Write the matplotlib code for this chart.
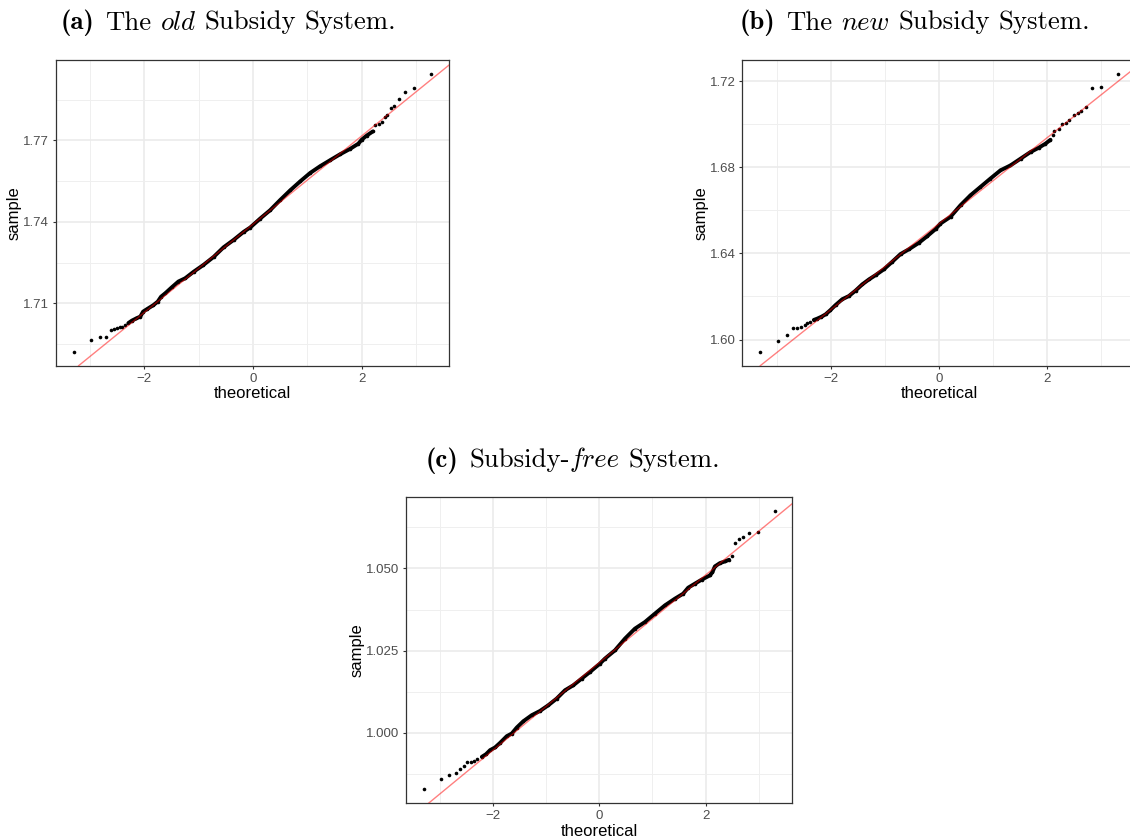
import numpy as np
import matplotlib
matplotlib.use("Agg")
import matplotlib.pyplot as plt
from matplotlib.ticker import FixedLocator, FormatStrFormatter

plt.rcParams['font.family'] = ['Liberation Sans', 'DejaVu Sans']
plt.rcParams['axes.unicode_minus'] = True

# ---- (a) the old subsidy system ----
old_band_theo = [-2.29, -2.225, -2.145, -2.07, -2.02, -1.95, -1.83, -1.75, -1.69, -1.61,
                 -1.49, -1.37, -1.245, -1.09, -0.91, -0.72, -0.54, -0.356, -0.17, -0.05,
                 0.134, 0.318, 0.50, 0.686, 0.87, 1.053, 1.237, 1.42, 1.605, 1.79,
                 1.94, 2.003, 2.095, 2.206]
old_band_sample = [1.7027, 1.7036, 1.7044, 1.7051, 1.7069, 1.7078, 1.7093, 1.7106, 1.7124, 1.7137,
                   1.7159, 1.7180, 1.7192, 1.7216, 1.7241, 1.7271, 1.7306, 1.7333, 1.7363, 1.7379,
                   1.7412, 1.7443, 1.7480, 1.7516, 1.7549, 1.7580, 1.7605, 1.7627, 1.7649, 1.7669,
                   1.7688, 1.7703, 1.7718, 1.7733]
old_tail_theo = [-3.298, -2.972, -2.82, -2.70, -2.617, -2.55, -2.50, -2.45, -2.40, -2.35,
                 2.25, 2.31, 2.383, 2.432, 2.475, 2.536, 2.604, 2.69, 2.80, 2.96, 3.283]
old_tail_sample = [1.6921, 1.6964, 1.6974, 1.6974, 1.7002, 1.7006, 1.7007, 1.7011, 1.7014, 1.7019,
                   1.7755, 1.7759, 1.7766, 1.7786, 1.7793, 1.7820, 1.7826, 1.7853, 1.7879, 1.7894, 1.7945]
old_line = (1.7391, 0.01626)          # intercept, slope of the quartile line
old_yticks = [1.71, 1.74, 1.77]

# ---- (b) the new subsidy system ----
new_band_theo = [-2.318, -2.255, -2.176, -2.10, -2.01, -1.917, -1.793, -1.67, -1.547, -1.423,
                 -1.30, -1.177, -1.024, -0.869, -0.715, -0.562, -0.377, -0.222, -0.068, 0.024,
                 0.209, 0.394, 0.578, 0.763, 0.948, 1.133, 1.318, 1.503, 1.688, 1.841,
                 1.965, 2.057]
new_band_sample = [1.6091, 1.6097, 1.6106, 1.6117, 1.6137, 1.6160, 1.6187, 1.6202, 1.6227, 1.6256,
                   1.6279, 1.6299, 1.6326, 1.6361, 1.6397, 1.6419, 1.6449, 1.6480, 1.6513, 1.6539,
                   1.6570, 1.6624, 1.6670, 1.6709, 1.6748, 1.6786, 1.6809, 1.6840, 1.6871, 1.6891,
                   1.6910, 1.6928]
new_tail_theo = [-3.309, -2.983, -2.82, -2.706, -2.625, -2.558, -2.49, -2.44, -2.38,
                 2.10, 2.131, 2.211, 2.274, 2.335, 2.396, 2.488, 2.562, 2.63, 2.71, 2.828, 2.987, 3.309]
new_tail_sample = [1.5943, 1.5995, 1.6021, 1.6055, 1.6055, 1.6057, 1.6068, 1.6079, 1.6083,
                   1.6950, 1.6971, 1.6979, 1.6999, 1.7005, 1.7021, 1.7041, 1.7052, 1.7061, 1.7080,
                   1.7168, 1.7172, 1.7234]
new_line = (1.6539, 0.01997)
new_yticks = [1.60, 1.64, 1.68, 1.72]

# ---- (c) the subsidy-free system ----
free_band_theo = [-2.208, -2.128, -2.053, -1.959, -1.865, -1.739, -1.645, -1.551, -1.427, -1.27,
                  -1.114, -0.958, -0.80, -0.644, -0.488, -0.33, -0.175, 0.013, 0.107, 0.295,
                  0.483, 0.67, 0.858, 1.046, 1.234, 1.422, 1.577, 1.671, 1.797, 1.923,
                  2.079, 2.128, 2.173, 2.267, 2.36, 2.441]
free_band_sample = [0.99268, 0.99350, 0.99472, 0.99554, 0.99693, 0.99897, 0.99978, 1.00160, 1.00352, 1.00535,
                    1.00665, 1.00838, 1.01042, 1.01294, 1.01446, 1.01650, 1.01850, 1.02105, 1.02257, 1.02509,
                    1.02865, 1.03168, 1.03369, 1.03624, 1.03876, 1.04080, 1.04232, 1.04414, 1.04536, 1.04657,
                    1.04788, 1.04890, 1.05061, 1.05161, 1.05213, 1.05264]
free_tail_theo = [-3.298, -2.973, -2.817, -2.697, -2.616, -2.541, -2.479, -2.415, -2.353, -2.29,
                  2.492, 2.548, 2.618, 2.704, 2.811, 2.975, 3.299]
free_tail_sample = [0.98278, 0.98600, 0.98703, 0.98764, 0.98904, 0.98985, 0.99107, 0.99117, 0.99147, 0.99189,
                    1.05364, 1.05780, 1.05902, 1.05951, 1.06084, 1.06103, 1.06741]
free_line = (1.02135, 0.01333)
free_yticks = [1.000, 1.025, 1.050]

x_ticks = [-2, 0, 2]
x_minor = [-3, -1, 1, 3]

# caption pieces: (text, Computer Modern face)
title_a = [("(a)", "cmb10"), ("The", "cmr10"), ("old", "cmmi10"), ("Subsidy System.", "cmr10")]
title_b = [("(b)", "cmb10"), ("The", "cmr10"), ("new", "cmmi10"), ("Subsidy System.", "cmr10")]
title_c = [("(c)", "cmb10"), ("Subsidy-", "cmr10"), ("free", "cmmi10"), ("System.", "cmr10")]

W, H = 1130, 838
fig = plt.figure(figsize=(W / 100, H / 100), dpi=100)


def px_axes(left, top, width, height):
    return fig.add_axes([left / W, 1 - (top + height) / H, width / W, height / H])


def qq_panel(ax, band_t, band_s, tail_t, tail_s, line, yticks, yfmt):
    all_t = np.array(band_t + tail_t)
    all_s = np.array(band_s + tail_s)
    # 5% expansion around the data range
    tr = all_t.max() - all_t.min()
    sr = all_s.max() - all_s.min()
    ax.set_xlim(all_t.min() - 0.05 * tr, all_t.max() + 0.05 * tr)
    ax.set_ylim(all_s.min() - 0.05 * sr, all_s.max() + 0.05 * sr)

    ax.set_facecolor('white')
    ax.xaxis.set_major_locator(FixedLocator(x_ticks))
    ax.xaxis.set_minor_locator(FixedLocator(x_minor))
    ystep = yticks[1] - yticks[0]
    ax.yaxis.set_major_locator(FixedLocator(yticks))
    yminor = [yticks[0] - ystep / 2] + [t + ystep / 2 for t in yticks]
    ax.yaxis.set_minor_locator(FixedLocator(yminor))
    ax.yaxis.set_major_formatter(FormatStrFormatter(yfmt))
    ax.grid(which='major', color='#EBEBEB', lw=1.2, zorder=0)
    ax.grid(which='minor', color='#EFEFEF', lw=0.7, zorder=0)
    ax.set_axisbelow(True)
    ax.tick_params(which='major', length=2.5, width=0.8, color='#333333',
                   labelsize=9.5, labelcolor='#4D4D4D', pad=2.5)
    ax.tick_params(which='minor', length=0)
    for sp in ax.spines.values():
        sp.set_color('#333333')
        sp.set_linewidth(0.9)

    # dense body of the sample drawn as a continuous run of points
    ax.plot(band_t, band_s, color='black', lw=2.8, solid_capstyle='round',
            solid_joinstyle='round', zorder=2)
    ax.plot(band_t, band_s, 'o', color='black', ms=2.6, mew=0, zorder=2)
    ax.plot(tail_t, tail_s, 'o', color='black', ms=2.6, mew=0, zorder=2)
    # reference line through the quartiles
    ax.axline((0, line[0]), slope=line[1], color='red', alpha=0.5, lw=1.0, zorder=3)

    ax.set_xlabel('theoretical', fontsize=12, labelpad=1.0)
    ax.set_ylabel('sample', fontsize=12, labelpad=0.8)


def caption(cx, baseline, pieces, size=19.3):
    renderer = fig.canvas.get_renderer()
    em = size * 100 / 72.0
    words = []
    for k, (txt, fam) in enumerate(pieces):
        parts = txt.split(' ')
        for j, w in enumerate(parts):
            gap = 0.0
            if words:
                # no space after a trailing hyphen
                if words[-1][0].endswith('-') and j == 0:
                    gap = 0.0
                else:
                    gap = (0.42 if k == 1 and j == 0 else 0.333) * em
            words.append((w, fam, gap))
    objs, total = [], 0.0
    for w, fam, gap in words:
        t = fig.text(0, 1 - baseline / H, w, family=fam, fontsize=size, ha='left', va='baseline')
        wd = t.get_window_extent(renderer).width
        objs.append((t, wd, gap))
        total += wd + gap
    x = cx - total / 2
    for t, wd, gap in objs:
        x += gap
        t.set_x(x / W)
        x += wd


ax_a = px_axes(55.7, 60, 393.6, 305.7)
qq_panel(ax_a, old_band_theo, old_band_sample, old_tail_theo, old_tail_sample,
         old_line, old_yticks, '%.2f')

ax_b = px_axes(742.3, 60, 393.8, 305.7)
qq_panel(ax_b, new_band_theo, new_band_sample, new_tail_theo, new_tail_sample,
         new_line, new_yticks, '%.2f')

ax_c = px_axes(406.3, 497.3, 386.0, 306.0)
qq_panel(ax_c, free_band_theo, free_band_sample, free_tail_theo, free_tail_sample,
         free_line, free_yticks, '%.3f')

caption(228.5, 29.5, title_a)
caption(915.0, 29.5, title_b)
caption(572.7, 467.0, title_c)

fig.savefig('out.png', dpi=100, facecolor='white')
